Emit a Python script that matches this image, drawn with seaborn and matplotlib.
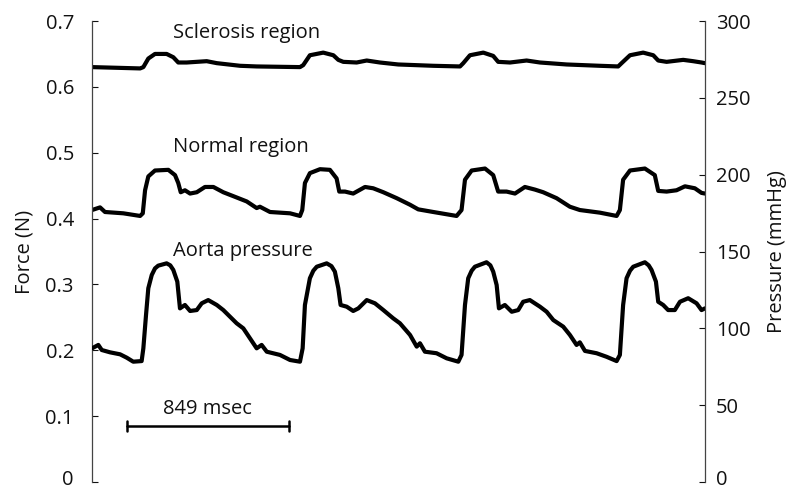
import matplotlib
matplotlib.use("Agg")
import matplotlib.pyplot as plt
import matplotlib.transforms as mtransforms
import seaborn as sns
import pandas as pd

# ---- data (time in msec) ----
scl_t = [0, 252, 269, 295, 330, 391, 426, 452, 496, 601, 654, 776, 863, 1090, 1107, 1142, 1212,
         1265, 1291, 1317, 1387, 1440, 1509, 1605, 1789, 1929, 1946, 1981, 2051, 2103, 2129, 2191,
         2278, 2348, 2488, 2662, 2758, 2776, 2820, 2889, 2942, 2968, 3012, 3099, 3151, 3195, 3213]
scl_f = [0.630, 0.628, 0.630, 0.643, 0.650, 0.650, 0.645, 0.637, 0.637, 0.639, 0.636, 0.632,
         0.631, 0.630, 0.633, 0.648, 0.652, 0.648, 0.641, 0.638, 0.637, 0.640, 0.637, 0.634,
         0.632, 0.631, 0.636, 0.648, 0.652, 0.647, 0.638, 0.637, 0.640, 0.637, 0.634, 0.632,
         0.631, 0.636, 0.648, 0.652, 0.648, 0.640, 0.638, 0.641, 0.639, 0.637, 0.636]

nor_t = [0, 42, 68, 164, 252, 266, 278, 295, 330, 400, 435, 452, 465, 487, 514, 549, 592, 636,
         688, 741, 811, 863, 880, 933, 1038, 1090, 1102, 1116, 1142, 1195, 1247, 1282, 1296, 1326,
         1369, 1431, 1474, 1527, 1597, 1667, 1710, 1789, 1911, 1937, 1955, 1990, 2060, 2103, 2129,
         2173, 2217, 2269, 2322, 2365, 2435, 2505, 2557, 2662, 2750, 2767, 2784, 2820, 2898, 2950,
         2968, 3012, 3064, 3108, 3160, 3195, 3213]
nor_f = [0.413, 0.417, 0.410, 0.408, 0.404, 0.408, 0.443, 0.464, 0.473, 0.474, 0.466, 0.454,
         0.440, 0.443, 0.438, 0.440, 0.448, 0.448, 0.440, 0.434, 0.426, 0.416, 0.418, 0.410,
         0.408, 0.404, 0.413, 0.454, 0.469, 0.475, 0.474, 0.461, 0.441, 0.441, 0.438, 0.448,
         0.446, 0.440, 0.431, 0.421, 0.414, 0.410, 0.404, 0.413, 0.459, 0.473, 0.476, 0.466,
         0.441, 0.441, 0.438, 0.448, 0.444, 0.440, 0.431, 0.418, 0.413, 0.409, 0.404, 0.413,
         0.459, 0.473, 0.476, 0.466, 0.442, 0.441, 0.443, 0.449, 0.446, 0.439, 0.438]

aor_t = [0, 33, 51, 94, 147, 182, 216, 260, 269, 283, 295, 313, 330, 347, 391, 410, 426, 447, 461,
         487, 514, 549, 575, 609, 654, 688, 723, 758, 793, 828, 863, 889, 916, 985, 1038, 1090,
         1104, 1116, 1142, 1160, 1178, 1230, 1255, 1273, 1291, 1303, 1335, 1369, 1396, 1440, 1483,
         1527, 1579, 1614, 1667, 1702, 1719, 1745, 1806, 1859, 1920, 1937, 1955, 1972, 1990, 2007,
         2068, 2088, 2103, 2121, 2133, 2164, 2200, 2234, 2260, 2295, 2348, 2383, 2418, 2470, 2505,
         2540, 2557, 2584, 2645, 2697, 2750, 2767, 2784, 2802, 2820, 2837, 2898, 2918, 2933, 2956,
         2968, 2994, 3020, 3055, 3082, 3125, 3169, 3195, 3213]
aor_p = [87.0, 89.2, 85.9, 84.4, 83.1, 80.9, 78.3, 78.7, 87.0, 108.7, 126.1, 134.7, 139.0, 140.8,
         142.3, 141.0, 138.0, 130.4, 113.0, 115.2, 111.3, 111.9, 116.3, 118.4, 115.2, 111.9, 107.6,
         103.3, 100.0, 93.5, 87.0, 89.2, 84.8, 82.7, 79.4, 78.3, 87.0, 115.2, 132.6, 137.5, 140.1,
         142.3, 140.5, 136.9, 126.1, 115.2, 114.1, 111.3, 113.0, 118.4, 116.3, 111.9, 106.5, 103.3,
         95.7, 88.1, 90.3, 84.8, 83.8, 80.5, 78.3, 82.7, 115.2, 132.6, 137.5, 140.1, 143.0, 141.0,
         136.9, 128.2, 113.0, 115.2, 110.8, 111.9, 117.3, 118.4, 114.1, 110.8, 105.4, 101.1, 95.7,
         89.2, 90.9, 85.3, 83.8, 81.5, 78.7, 82.7, 115.2, 132.6, 137.5, 140.1, 143.0, 141.0, 138.0,
         130.4, 117.3, 115.2, 111.9, 111.9, 117.3, 119.6, 116.3, 111.9, 113.0]

left_ticks = [0, 0.1, 0.2, 0.3, 0.4, 0.5, 0.6, 0.7]
left_labels = ["0", "0.1", "0.2", "0.3", "0.4", "0.5", "0.6", "0.7"]
right_ticks = [0, 50, 100, 150, 200, 250, 300]

labels = ["Sclerosis region", "Normal region", "Aorta pressure"]
scale_bar = [183, 1032]   # 849 msec
scale_text = "849 msec"

# ---- plot ----
sns.set_style("white")
plt.rcParams["font.family"] = ["Open Sans", "DejaVu Sans"]
FS = 14.5
TC = "#111111"

fig = plt.figure(figsize=(8.01, 4.92), dpi=100)
ax = fig.add_axes([0.1149, 0.0203, 0.8801 - 0.1149, 0.9370])
ax2 = ax.twinx()

lw = 3.0
kw = dict(color="black", lw=lw, sort=False, solid_joinstyle="round", solid_capstyle="round")
sns.lineplot(x=scl_t, y=scl_f, ax=ax, **kw)
sns.lineplot(x=nor_t, y=nor_f, ax=ax, **kw)
sns.lineplot(x=aor_t, y=aor_p, ax=ax2, **kw)

ax.set_xlim(0, 3213)
ax.set_ylim(0, 0.7)
ax2.set_ylim(0, 300)

for a in (ax, ax2):
    for s in ("top", "bottom"):
        a.spines[s].set_visible(False)
    a.set_xticks([])
ax.spines["right"].set_visible(False)
ax2.spines["left"].set_visible(False)
ax.spines["left"].set_color("#444444")
ax.spines["left"].set_linewidth(0.9)
ax2.spines["right"].set_color("#444444")
ax2.spines["right"].set_linewidth(0.9)

ax.set_yticks(left_ticks)
ax.set_yticklabels(left_labels)
ax.tick_params(axis="y", direction="in", length=4, width=0.8, pad=13, labelsize=FS,
               colors=TC, left=True)
ax2.set_yticks(right_ticks)
ax2.tick_params(axis="y", direction="in", length=4, width=0.8, pad=8, labelsize=FS,
                colors=TC, right=True)

# keep the bottom "0" labels inside the canvas
shift = mtransforms.ScaledTranslation(0, 5 / 100, fig.dpi_scale_trans)
for lab in (ax.get_yticklabels()[0], ax2.get_yticklabels()[0]):
    lab.set_transform(lab.get_transform() + shift)

ax.set_ylabel("Force (N)", fontsize=FS, color=TC, labelpad=8)
ax2.set_ylabel("Pressure (mmHg)", fontsize=FS, color=TC, labelpad=12)

ax.text(425, 0.682, labels[0], fontsize=FS, va="center", ha="left", color=TC)
ax.text(425, 0.509, labels[1], fontsize=FS, va="center", ha="left", color=TC)
ax.text(425, 0.351, labels[2], fontsize=FS, va="center", ha="left", color=TC)

# scale bar
ax.plot(scale_bar, [0.085, 0.085], color="black", lw=1.8)
for xb in scale_bar:
    ax.plot([xb, xb], [0.078, 0.092], color="black", lw=1.8)
ax.text(sum(scale_bar) / 2, 0.111, scale_text, fontsize=FS, ha="center", va="center", color=TC)

fig.savefig("out.png", dpi=100)
